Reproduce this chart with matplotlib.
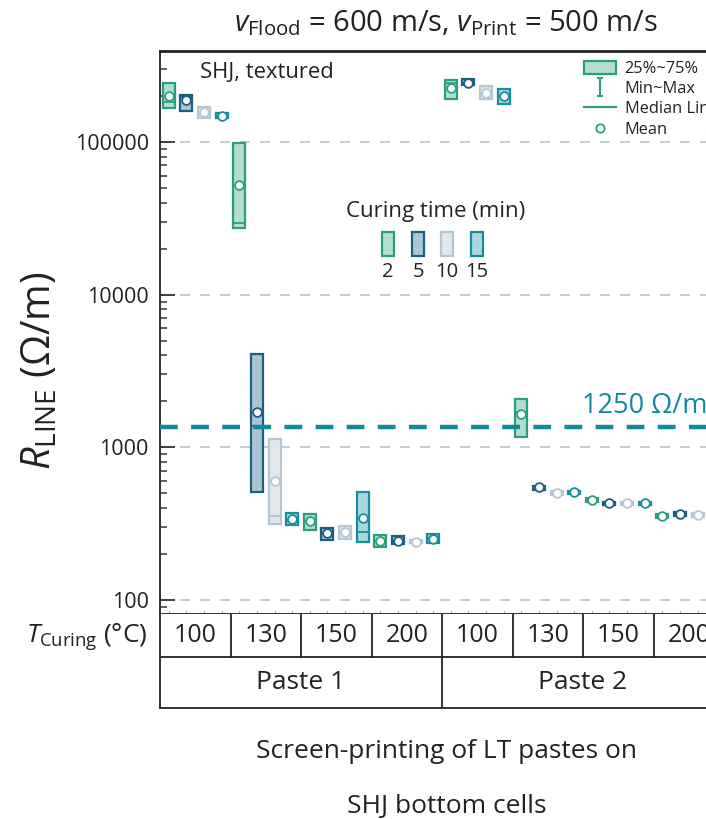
import numpy as np
import matplotlib
matplotlib.use("Agg")
import matplotlib.pyplot as plt
from matplotlib.patches import Rectangle, Patch
from matplotlib.lines import Line2D
from matplotlib.path import Path

plt.rcParams['font.family'] = ['Open Sans', 'DejaVu Sans']
plt.rcParams['mathtext.fontset'] = 'custom'
plt.rcParams['mathtext.rm'] = 'Open Sans'
plt.rcParams['mathtext.it'] = 'Open Sans:italic'
plt.rcParams['mathtext.bf'] = 'Open Sans:bold'

# ---------------- data ----------------
pastes = ["Paste 1", "Paste 2"]
temps = [100, 130, 150, 200]          # T_Curing (°C)
times = [2, 5, 10, 15]                # curing time (min)

# order: paste -> temperature -> curing time
q3 = [244000, 203000, 169000, 155000,
      98000, 4060, 1127, 374,
      365, 296, 303, 506,
      266, 263, 247, 270,
      254000, 257000, 232000, 221000,
      2080, 562, 515, 520,
      468, 440, 440, 440,
      366, 375, 371, 360]
q1 = [167000, 160000, 144000, 143000,
      27400, 506, 314, 309,
      288, 247, 251, 240,
      221, 232, 236, 236,
      191000, 234000, 191000, 177000,
      1175, 525, 488, 492,
      440, 418, 418, 418,
      346, 355, 351, 342]
med = [182000, 197000, 150000, 148000,
       29600, 1370, 356, 330,
       330, 270, 275, 277,
       245, 245, 241, 255,
       244000, 244000, 210000, 198000,
       1700, 546, 500, 506,
       453, 429, 429, 429,
       356, 365, 361, 352]
mean = [200000, 188000, 157000, 148000,
        51800, 1700, 603, 338,
        330, 274, 277, 342,
        244, 245, 241, 251,
        226000, 244000, 210000, 198000,
        1645, 546, 500, 506,
        453, 429, 429, 429,
        356, 365, 361, 352]
vmax = list(q3)
vmin = list(q1)

threshold_pos = 1350
threshold_label = "1250 Ω/m"

edge_colors = {2: "#2b9e80", 5: "#1c5f83", 10: "#b5c7d3", 15: "#1a8d9d"}
face_colors = {2: "#b2ded0", 5: "#a9c6d6", 10: "#e1e8ed", 15: "#a9d8df"}
text_color = '#222222'

# ---------------- figure ----------------
W, H = 706, 819
fig = plt.figure(figsize=(W / 100, H / 100), dpi=100)

def fx(px):
    return px / W

def fy(py):
    return 1 - py / H

ax_l, ax_r, ax_t, ax_b = 160, 724, 51, 614
ax = fig.add_axes([fx(ax_l), fy(ax_b), fx(ax_r - ax_l), (ax_b - ax_t) / H])

n = len(pastes) * len(temps) * len(times)
positions = np.arange(n)
stats = []
for i in range(n):
    stats.append(dict(med=med[i], q1=q1[i], q3=q3[i], whislo=vmin[i],
                      whishi=vmax[i], mean=mean[i]))

bp = ax.bxp(stats, positions=positions, widths=0.68, patch_artist=True,
            showmeans=True, showfliers=False, capwidths=0.68,
            manage_ticks=False)
for i in range(n):
    t = times[i % len(times)]
    ec, fc = edge_colors[t], face_colors[t]
    bp['boxes'][i].set(facecolor=fc, edgecolor=ec, linewidth=1.6, zorder=3)
    bp['medians'][i].set(color=ec, linewidth=1.3, zorder=4)
    for w in bp['whiskers'][2 * i:2 * i + 2]:
        w.set(color=ec, linewidth=1.3, zorder=3)
    for c in bp['caps'][2 * i:2 * i + 2]:
        c.set(color=ec, linewidth=1.3, zorder=3)
    bp['means'][i].set(marker='o', markerfacecolor='white', markeredgecolor=ec,
                       markersize=6.3, markeredgewidth=1.3, zorder=5)

ax.set_yscale('log')
ax.set_ylim(81, 393000)
ax.set_xlim(-0.5, n - 0.5)
ax.set_yticks([100, 1000, 10000, 100000])
ax.set_yticklabels(["100", "1000", "10000", "100000"])
ax.tick_params(axis='y', which='major', direction='in', length=11, width=1.3,
               labelsize=15.5, pad=8, color='#333333', labelcolor=text_color)
ax.tick_params(axis='y', which='minor', direction='in', length=5, width=1.1,
               color='#333333', labelleft=False)
ax.tick_params(axis='x', which='both', direction='in', length=3, width=0.8,
               color='#bbbbbb', labelbottom=False)
ax.set_xticks(positions)
ax.yaxis.grid(True, which='major', linestyle=(0, (6, 6)), color='#b3c6d2',
              linewidth=1.2)
ax.set_axisbelow(True)
for s in ['left', 'right', 'bottom']:
    ax.spines[s].set_linewidth(1.3)
    ax.spines[s].set_color(text_color)
ax.spines['top'].set_linewidth(2.0)
ax.spines['top'].set_color(text_color)

ax.axhline(threshold_pos, color='#12899a', linewidth=3.2,
           linestyle=(0, (4, 3)), zorder=6)
fig.text(fx(582), fy(406), threshold_label, color='#12899a', fontsize=19.5,
         ha='left', va='center')

fig.text(fx(200), fy(72), "SHJ, textured", fontsize=15.8, ha='left',
         va='center', color=text_color)

# legend (upper right)
i_path = Path([(-0.35, 1), (0.35, 1), (0, 1), (0, -1), (-0.35, -1), (0.35, -1)],
              [Path.MOVETO, Path.LINETO, Path.MOVETO, Path.LINETO,
               Path.MOVETO, Path.LINETO])
g_e, g_f = edge_colors[2], face_colors[2]
handles = [
    Patch(facecolor=g_f, edgecolor=g_e, linewidth=1.6),
    Line2D([], [], marker=i_path, markersize=13, color=g_e, linestyle='none',
           markeredgewidth=1.5),
    Line2D([], [], color=g_e, linewidth=1.6),
    Line2D([], [], marker='o', markerfacecolor='white', markeredgecolor=g_e,
           linestyle='none', markersize=6, markeredgewidth=1.3),
]
labels = ["25%~75%", "Min~Max", "Median Line", "Mean"]
fig.legend(handles, labels, loc='upper left',
           bbox_to_anchor=(fx(577), fy(54)), frameon=False, fontsize=11.8,
           handlelength=2.0, handleheight=0.85, handletextpad=0.5,
           labelspacing=0.25, borderaxespad=0, labelcolor=text_color)

# curing time key
fig.text(fx(436), fy(211), "Curing time (min)", fontsize=16, ha='center',
         va='center', color=text_color)
key_x = [388, 418, 447, 477]
for t, kx in zip(times, key_x):
    fig.patches.append(Rectangle((fx(kx - 6), fy(256)), 12 / W, 24 / H,
                                 transform=fig.transFigure,
                                 facecolor=face_colors[t],
                                 edgecolor=edge_colors[t], linewidth=1.6))
    fig.text(fx(kx), fy(272), str(t), fontsize=14.5, ha='center', va='center',
             color=text_color)

# title
fig.text(fx(446), fy(23),
         r"$v_{\mathrm{Flood}}$ = 600 m/s, $v_{\mathrm{Print}}$ = 500 m/s",
         fontsize=21, ha='center', va='center', color=text_color)

# y label
fig.text(fx(40), fy(371), r"$R_{\mathrm{LINE}}$ (Ω/m)", fontsize=28.5,
         rotation=90, ha='center', va='center', color=text_color)

# ---------------- table ----------------
tb_top, tb_mid, tb_bot = 614, 657, 708
tax = fig.add_axes([fx(ax_l), fy(tb_bot), fx(ax_r - ax_l), (tb_bot - tb_top) / H])
tax.set_xlim(-0.5, n - 0.5)
tax.set_ylim(0, tb_bot - tb_top)
tax.set_xticks([])
tax.set_yticks([])
for s in tax.spines.values():
    s.set_linewidth(1.3)
    s.set_color(text_color)
tax.spines['top'].set_visible(False)
mid_y = tb_bot - tb_mid
tax.axhline(mid_y, color=text_color, linewidth=1.3)
nt = len(times)
for k in range(1, len(pastes) * len(temps)):
    tax.axvline(-0.5 + nt * k, ymin=mid_y / (tb_bot - tb_top), ymax=1,
                color=text_color, linewidth=1.3)
for k in range(1, len(pastes)):
    tax.axvline(-0.5 + nt * len(temps) * k, ymin=0, ymax=mid_y / (tb_bot - tb_top),
                color=text_color, linewidth=1.3)
for p in range(len(pastes)):
    for j, T in enumerate(temps):
        cx = (p * len(temps) + j) * nt + (nt - 1) / 2
        tax.text(cx, (mid_y + (tb_bot - tb_top)) / 2, str(T), fontsize=18,
                 ha='center', va='center', color=text_color)
    cx = p * len(temps) * nt + (len(temps) * nt - 1) / 2
    tax.text(cx, mid_y / 2, pastes[p], fontsize=19, ha='center', va='center',
             color=text_color)

fig.text(fx(148), fy(637), r"$T_{\mathrm{Curing}}$ (°C)", fontsize=19,
         ha='right', va='center', color=text_color)

fig.text(fx(447), fy(752), "Screen-printing of LT pastes on", fontsize=19,
         ha='center', va='center', color=text_color)
fig.text(fx(447), fy(806), "SHJ bottom cells", fontsize=19,
         ha='center', va='center', color=text_color)

fig.savefig("out.png", dpi=100)
